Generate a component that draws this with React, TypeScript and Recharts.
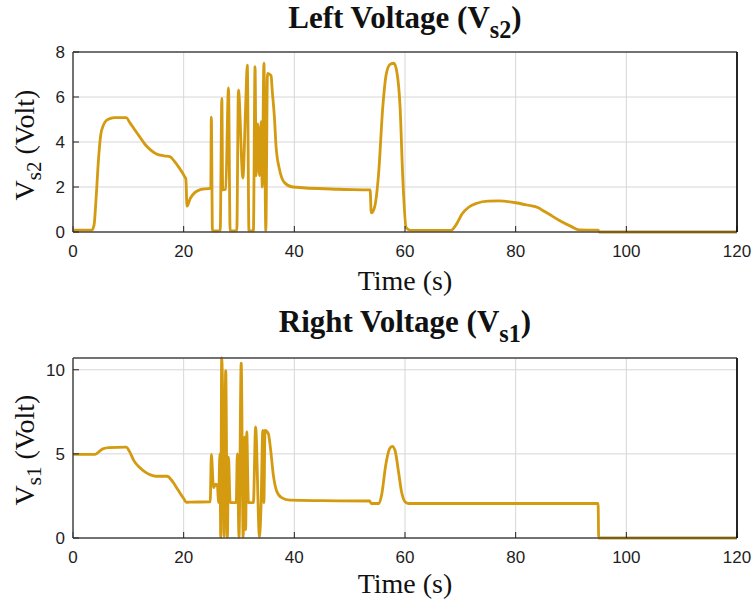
import { CartesianGrid, Line, LineChart, XAxis, YAxis } from "recharts";

// time (s) vs voltage (V)
const leftVs2: [number, number][] = [
  [0, 0.08], [3.4, 0.08], [3.8, 0.3], [4.2, 1.6], [4.6, 3.2], [5.0, 4.3], [5.5, 4.75],
  [6.0, 4.95], [6.8, 5.05], [7.5, 5.08], [9.6, 5.08], [10.3, 4.85], [11.0, 4.6],
  [12.0, 4.25], [13.0, 3.9], [14.0, 3.65], [15.0, 3.48], [16.5, 3.38], [17.5, 3.35],
  [18.3, 3.15], [19.2, 2.85], [20.2, 2.45], [20.4, 2.35], [20.6, 1.15], [21.2, 1.5],
  [22.0, 1.75], [23.0, 1.88], [24.9, 1.95], [25.0, 5.1], [25.2, 0.05], [26.6, 0.05],
  [26.9, 5.94], [27.05, 1.87], [27.6, 1.9], [28.1, 6.4], [28.4, 0.05], [29.6, 0.05],
  [29.9, 6.3], [30.7, 2.4], [31.2, 5.6], [31.5, 7.42], [31.8, 0.05], [32.6, 0.05],
  [32.9, 7.35], [33.1, 2.5], [33.4, 4.8], [33.7, 2.5], [34.0, 4.9], [34.2, 2.0],
  [34.5, 7.5], [34.85, 0.05], [35.15, 7.05], [35.8, 6.95], [36.0, 6.3], [36.4, 5.1],
  [36.7, 3.8], [37.3, 2.8], [38.2, 2.2], [39.7, 2.0], [48, 1.9], [53.7, 1.87],
  [53.9, 0.85], [54.5, 1.1], [55.2, 2.5], [56.0, 5.6], [56.6, 7.0], [57.3, 7.45],
  [58.0, 7.5], [58.6, 7.0], [59.1, 5.6], [59.6, 2.4], [60.2, 0.2], [61.0, 0.07],
  [68.3, 0.07], [69.3, 0.35], [70.3, 0.8], [71.5, 1.1], [73, 1.28], [75, 1.37],
  [77, 1.38], [80, 1.3], [82, 1.2], [84.2, 1.07], [84.5, 1.02], [86, 0.8], [88, 0.5],
  [90, 0.25], [91.5, 0.09], [94.9, 0.08], [95.1, 0], [120, 0],
];

const rightVs1: [number, number][] = [
  [0, 4.97], [4.0, 4.97], [4.6, 5.1], [5.4, 5.3], [6.5, 5.37], [9.6, 5.4], [10.2, 5.15],
  [11.0, 4.6], [12.0, 4.2], [13.0, 3.93], [14.0, 3.75], [15.0, 3.67], [17.0, 3.67],
  [18.0, 3.35], [19.0, 2.85], [20.0, 2.35], [20.5, 2.12], [21, 2.13], [24.8, 2.15],
  [25.0, 4.97], [25.4, 3.0], [25.8, 3.2], [26.1, 3.1], [26.3, 2.1], [26.55, 5.0],
  [26.7, 0.05], [26.87, 10.7], [27.1, 7.2], [27.3, 0.1], [27.6, 9.95], [27.9, 0.05],
  [28.1, 4.8], [28.4, 2.1], [29.5, 2.1], [29.7, 5.0], [30.0, 0.05], [30.4, 10.4],
  [30.75, 0.05], [31.0, 6.0], [31.2, 0.5], [31.4, 6.3], [31.7, 2.1], [32.6, 2.1],
  [33.0, 6.6], [33.7, 0.05], [34.0, 2.1], [34.3, 6.4], [34.5, 2.1], [34.7, 6.4],
  [35.3, 6.2], [35.7, 5.3], [36.2, 3.75], [36.8, 2.8], [37.7, 2.4], [39.2, 2.25],
  [45, 2.22], [53.6, 2.2], [53.9, 2.05], [55.3, 2.05], [55.8, 2.6], [56.5, 4.3],
  [57.2, 5.3], [57.7, 5.45], [58.2, 5.2], [58.8, 4.0], [59.4, 2.7], [60.0, 2.15],
  [60.6, 2.05], [94.9, 2.05], [95.0, 0], [120, 0],
];

const timeTicks = [0, 20, 40, 60, 80, 100, 120];
const leftTicks = [0, 2, 4, 6, 8];
const rightTicks = [0, 5, 10];

const LINE = "#D49A10";
const AXIS = "#4a4a4a";
const serif = "'Liberation Serif', 'Times New Roman', serif";
const tickStyle = { fontSize: 17, fill: "#1e1e1e", fontFamily: "'Liberation Sans', Arial, sans-serif" };

function Panel({
  series,
  yMax,
  yTicks,
  height,
  top,
}: {
  series: [number, number][];
  yMax: number;
  yTicks: number[];
  height: number;
  top: number;
}) {
  const data = series.map(([t, v]) => ({ t, v }));
  return (
    <LineChart
      width={752}
      height={height}
      data={data}
      margin={{ top: top - 1, right: 14, left: 0, bottom: 0 }}
    >
      <CartesianGrid stroke="#d6d6d6" strokeWidth={1} />
      <XAxis
        dataKey="t"
        type="number"
        domain={[0, 120]}
        ticks={timeTicks}
        interval={0}
        height={height - top - 180}
        tick={tickStyle}
        tickSize={-6}
        tickMargin={19}
        axisLine={{ stroke: AXIS, strokeWidth: 1.5 }}
        tickLine={{ stroke: "#222" }}
      />
      <XAxis
        xAxisId="top"
        orientation="top"
        dataKey="t"
        type="number"
        domain={[0, 120]}
        ticks={timeTicks}
        interval={0}
        height={1}
        tick={false}
        tickSize={-6}
        axisLine={{ stroke: AXIS, strokeWidth: 1.5 }}
        tickLine={{ stroke: "#222" }}
      />
      <YAxis
        type="number"
        domain={[0, yMax]}
        ticks={yTicks}
        interval={0}
        width={73}
        tick={tickStyle}
        tickSize={-6}
        tickMargin={14}
        axisLine={{ stroke: AXIS, strokeWidth: 1.5 }}
        tickLine={{ stroke: "#222" }}
      />
      <YAxis
        yAxisId="right"
        orientation="right"
        type="number"
        domain={[0, yMax]}
        ticks={yTicks}
        interval={0}
        width={1}
        tick={false}
        tickSize={-6}
        axisLine={{ stroke: "#111", strokeWidth: 1.8 }}
        tickLine={{ stroke: "#222" }}
      />
      <Line
        type="monotone"
        dataKey="v"
        stroke={LINE}
        strokeWidth={2.8}
        dot={false}
        isAnimationActive={false}
      />
    </LineChart>
  );
}

const sub = { fontSize: "0.78em", position: "relative" as const, top: "0.42em", lineHeight: 0 };

function Title({ y, children }: { y: number; children: React.ReactNode }) {
  return (
    <div
      style={{
        position: "absolute",
        left: 73,
        width: 664,
        top: y,
        textAlign: "center",
        fontFamily: serif,
        fontWeight: 700,
        fontSize: 31,
        lineHeight: "35px",
        color: "#111",
      }}
    >
      {children}
    </div>
  );
}

function XLabel({ y }: { y: number }) {
  return (
    <div
      style={{
        position: "absolute",
        left: 73,
        width: 664,
        top: y,
        textAlign: "center",
        fontFamily: serif,
        fontSize: 28,
        lineHeight: "28px",
        color: "#111",
      }}
    >
      Time (s)
    </div>
  );
}

function YLabel({ cy, s }: { cy: number; s: string }) {
  return (
    <div
      style={{
        position: "absolute",
        left: 25 - 100,
        top: cy - 14,
        width: 200,
        textAlign: "center",
        fontFamily: serif,
        fontSize: 28,
        lineHeight: "28px",
        color: "#111",
        transform: "rotate(-90deg)",
        transformOrigin: "50% 50%",
        whiteSpace: "nowrap",
      }}
    >
      V<span style={{ fontSize: "0.75em", position: "relative", top: "0.35em", lineHeight: 0 }}>{s}</span> (Volt)
    </div>
  );
}

export default function App() {
  return (
    <div
      style={{
        position: "absolute",
        left: 0,
        top: 0,
        width: 752,
        height: 609,
        background: "#fff",
        overflow: "hidden",
      }}
    >
      <div style={{ position: "absolute", left: 0, top: 0 }}>
        <Panel series={leftVs2} yMax={8} yTicks={leftTicks} height={300} top={52} />
      </div>
      <div style={{ position: "absolute", left: 0, top: 300 }}>
        <Panel series={rightVs1} yMax={10.65} yTicks={rightTicks} height={309} top={58} />
      </div>
      <Title y={0}>
        Left Voltage (V<span style={sub}>s2</span>)
      </Title>
      <Title y={304}>
        Right Voltage (V<span style={sub}>s1</span>)
      </Title>
      <XLabel y={267} />
      <XLabel y={570} />
      <YLabel cy={145} s="s2" />
      <YLabel cy={450} s="s1" />
    </div>
  );
}
